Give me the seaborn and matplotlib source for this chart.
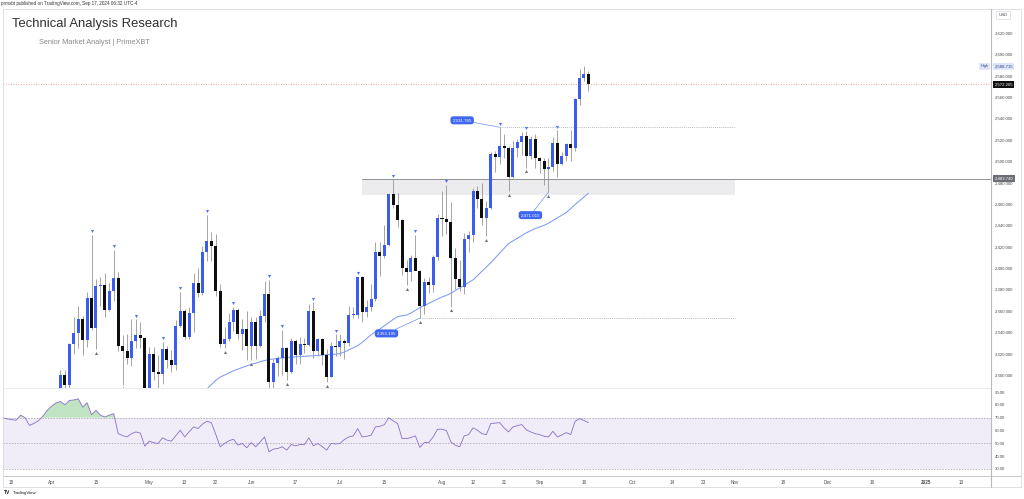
import numpy as np
import pandas as pd
import matplotlib
matplotlib.use("Agg")
import matplotlib.pyplot as plt
from matplotlib.lines import Line2D
from matplotlib.patches import Rectangle
import seaborn as sns

# ---------------- data ----------------
first_date = "2024-03-14"
axis_end_date = "2025-01-31"
holidays = ["2024-03-29"]

opens = [2174, 2162, 2155, 2160, 2157, 2186, 2181, 2165, 2172, 2178, 2194,
         2232, 2251, 2280, 2300, 2291, 2329, 2339, 2352, 2333, 2372,
         2344, 2383, 2384, 2361, 2379, 2391, 2327, 2322, 2316, 2332, 2337, 2335,
         2286, 2320, 2303, 2301, 2324, 2314, 2309, 2346, 2360, 2336, 2358, 2386, 2377,
         2415, 2425, 2421, 2379, 2329, 2334, 2350, 2361, 2338, 2343,
         2327, 2350, 2327, 2355, 2376, 2293, 2311, 2316, 2325, 2303,
         2332, 2319, 2329, 2328, 2360, 2322, 2334, 2319, 2298, 2327,
         2326, 2332, 2330, 2356, 2356, 2392, 2359, 2364, 2371, 2415,
         2411, 2422, 2469, 2459, 2445, 2400, 2396, 2409, 2397, 2365,
         2387, 2384, 2410, 2447, 2446, 2443, 2409, 2390, 2382, 2427,
         2431, 2472, 2465, 2447, 2456, 2507, 2504, 2514, 2512, 2485,
         2512, 2518, 2524, 2505, 2521, 2503, 2500, 2493, 2495, 2517,
         2497, 2505, 2516, 2512, 2558, 2578, 2582]
highs = [2175, 2167, 2164, 2163, 2187, 2222, 2183, 2176, 2190, 2195, 2236,
         2265, 2280, 2305, 2305, 2330, 2354, 2365, 2355, 2378, 2431,
         2390, 2392, 2395, 2386, 2417, 2396, 2337, 2338, 2352, 2352, 2350, 2336,
         2326, 2326, 2319, 2331, 2327, 2323, 2351, 2378, 2362, 2364, 2395, 2400, 2421,
         2450, 2434, 2432, 2385, 2345, 2358, 2364, 2363, 2352, 2360,
         2354, 2354, 2361, 2388, 2389, 2315, 2318, 2342, 2326, 2335,
         2334, 2336, 2335, 2366, 2368, 2335, 2335, 2324, 2331, 2338,
         2338, 2334, 2365, 2364, 2392, 2393, 2370, 2385, 2424, 2424,
         2440, 2469, 2483, 2470, 2446, 2408, 2412, 2431, 2398, 2391,
         2392, 2412, 2451, 2472, 2478, 2462, 2419, 2408, 2433, 2435,
         2475, 2477, 2480, 2463, 2509, 2510, 2531.765, 2525, 2514, 2519,
         2521, 2527, 2528, 2524, 2525, 2504, 2503, 2503, 2523, 2529,
         2509, 2517, 2529, 2559, 2586, 2588.715, 2584]
lows = [2152, 2146, 2146, 2146, 2146, 2172, 2157, 2160, 2168, 2171, 2190,
        2228, 2243, 2266, 2275, 2268, 2320, 2325, 2319, 2326, 2342,
        2324, 2365, 2354, 2360, 2369, 2322, 2291, 2310, 2308, 2325, 2325, 2285,
        2280, 2295, 2277, 2292, 2307, 2303, 2305, 2345, 2334, 2334, 2340, 2373, 2375,
        2407, 2407, 2374, 2326, 2325, 2332, 2341, 2334, 2323, 2314,
        2314, 2315, 2326, 2350, 2287, 2286, 2299, 2300, 2295, 2302,
        2310, 2310, 2321, 2327, 2316, 2318, 2309, 2293, 2298, 2318,
        2318, 2315, 2327, 2353, 2353, 2350, 2354, 2360, 2369, 2393,
        2409, 2421, 2456, 2438, 2394, 2384, 2388, 2400, 2353.195, 2357,
        2377, 2378, 2408, 2430, 2432, 2364, 2380, 2379, 2376, 2415,
        2424, 2456, 2440, 2430, 2455, 2490, 2497, 2503, 2472, 2484,
        2504, 2506, 2494, 2502, 2494, 2489, 2478, 2471.015, 2491, 2485,
        2496, 2500, 2500, 2510, 2553, 2575, 2566]
closes = [2162, 2155, 2160, 2157, 2186, 2181, 2165, 2172, 2178, 2194, 2230,
          2251, 2280, 2300, 2291, 2329, 2339, 2352, 2333, 2372, 2344,
          2383, 2384, 2361, 2379, 2391, 2327, 2322, 2316, 2332, 2337, 2335, 2286,
          2320, 2303, 2301, 2324, 2314, 2309, 2346, 2360, 2336, 2358, 2386, 2377, 2415,
          2425, 2421, 2379, 2329, 2334, 2350, 2361, 2338, 2343, 2327,
          2350, 2327, 2355, 2376, 2293, 2311, 2316, 2325, 2303, 2332,
          2319, 2329, 2328, 2360, 2322, 2334, 2319, 2298, 2327, 2326,
          2332, 2330, 2356, 2356, 2392, 2359, 2364, 2371, 2415, 2411,
          2422, 2469, 2459, 2445, 2400, 2396, 2409, 2397, 2365, 2387,
          2384, 2410, 2447, 2446, 2443, 2409, 2390, 2382, 2427, 2431,
          2472, 2465, 2447, 2456, 2507, 2504, 2514, 2512, 2485, 2512,
          2518, 2524, 2505, 2521, 2503, 2500, 2493, 2495, 2517, 2497,
          2505, 2516, 2512, 2558, 2578, 2582, 2572.205]

rsi_values = [70, 69, 68.5, 68, 72, 70, 64, 65.5, 67.5, 71, 75.7,
              79, 81.5, 82.6, 80.1, 83.4, 83.8, 84.7, 78.3, 81.6, 72.3,
              75.7, 72, 70.5, 72, 73.1, 57.6, 56, 55, 57.5, 58.9, 58, 47.8,
              51.7, 50.5, 49.9, 54.3, 52.5, 51.7, 56, 60.2, 55, 59, 62.8, 61.5, 65,
              67.2, 66.1, 57, 47.3, 50, 52, 53.2, 48.6, 49.9, 46.5,
              50.6, 47.3, 51, 55, 43.4, 45.5, 46, 47.3, 44.7, 49.1,
              48, 49.1, 49.1, 54.3, 48.1, 49.9, 47.5, 44.7, 49.9, 49.5,
              49.9, 53, 55, 55.8, 61.5, 55, 55.5, 56.3, 62.8, 63.3,
              64.5, 70, 67.5, 65.4, 53.7, 53.7, 54.5, 55.8, 46.8, 50.6,
              50.6, 55, 61, 61, 60, 51.2, 48.5, 47.3, 55.8, 56.8,
              62, 60.2, 57.5, 56.8, 65.4, 65.8, 66.1, 62, 58.9, 62.8,
              63.8, 64.6, 60.5, 58.9, 57.5, 56.8, 55.5, 55, 59.4, 55,
              56.5, 58.4, 56.8, 67.2, 69.2, 67.9, 66.1]

ma_start = "2024-05-17"
ma_values = [2283, 2287, 2291, 2295, 2298, 2300, 2302, 2304, 2305.5, 2307,
             2308.5, 2310, 2311, 2312.5, 2313.5, 2314.5, 2315, 2315.5, 2316, 2316.3,
             2316.6, 2317, 2317.2, 2317.5, 2317.8, 2318, 2318.3, 2318.6, 2319, 2319.2,
             2319.5, 2320, 2321.5, 2323.5, 2325.5, 2327.5, 2330.5, 2334, 2337.5, 2340.5,
             2343, 2346, 2349, 2352, 2354.5, 2355.5, 2356, 2358, 2360.5, 2363,
             2365, 2367, 2369, 2371, 2373, 2374.5, 2376.5, 2379, 2381.5, 2384,
             2386.5, 2389, 2393, 2397, 2401, 2405, 2409.5, 2414, 2418.5, 2423,
             2425.5, 2428, 2430.5, 2433, 2435, 2437, 2438.5, 2440, 2442, 2444.5,
             2447, 2449.5, 2452, 2455.5, 2459.5, 2463, 2466.5, 2470]

pivot_high_dates = ["2024-04-12", "2024-04-19", "2024-04-26", "2024-05-06", "2024-05-10",
                    "2024-05-20", "2024-05-28", "2024-06-07", "2024-06-12", "2024-06-21",
                    "2024-06-28", "2024-07-05", "2024-07-17", "2024-07-24", "2024-08-02",
                    "2024-08-20", "2024-08-28", "2024-09-06"]
pivot_low_dates = ["2024-04-15", "2024-04-23", "2024-05-24", "2024-06-03", "2024-06-13",
                   "2024-06-26", "2024-07-22", "2024-07-25", "2024-08-05", "2024-08-15",
                   "2024-08-22", "2024-08-28", "2024-09-04"]

price_ticks = list(range(2300, 2621, 20))
rsi_ticks = [30, 40, 50, 60, 70, 80, 90]
time_tick_dates = ["2024-03-18", "2024-04-01", "2024-04-15", "2024-05-01", "2024-05-13",
                   "2024-05-22", "2024-06-03", "2024-06-17", "2024-07-01", "2024-07-15",
                   "2024-08-01", "2024-08-12", "2024-08-21", "2024-09-02", "2024-09-16",
                   "2024-10-01", "2024-10-14", "2024-10-23", "2024-11-01", "2024-11-18",
                   "2024-12-02", "2024-12-16", "2025-01-01", "2025-01-13"]
time_tick_labels = ["18", "Apr", "15", "May", "13", "22", "Jun", "17", "Jul", "15",
                    "Aug", "12", "21", "Sep", "16", "Oct", "14", "23", "Nov", "18",
                    "Dec", "16", "2025", "13"]

zone_start, zone_end = "2024-07-08", "2024-11-01"
zone_top, zone_bottom = 2483.74, 2468.4
swing_high = ("2024-08-20", 2531.765)
swing_low_a = ("2024-09-04", 2471.015)
swing_low_b = ("2024-07-25", 2353.195)
level_end = "2024-11-01"
last_price = closes[-1]
session_high = 2588.715

# ---------------- style ----------------
sns.set_theme(style="white")
plt.rcParams['font.family'] = ['Liberation Sans', 'DejaVu Sans']

UP = "#3a5cf0"
DOWN = "#0e0e0e"
WICK = "#8c8c8c"
LBL = "#4a4a4a"

dates = pd.bdate_range(first_date, axis_end_date)
dates = dates[~dates.isin(pd.to_datetime(holidays))]
pos = {d: i for i, d in enumerate(dates)}
P = lambda s: pos[pd.Timestamp(s)]

n = len(closes)
x = np.arange(n)
o = np.array(opens, float); h = np.array(highs, float)
l = np.array(lows, float); c = np.array(closes, float)

W, H = 1024, 499
def box(left, top, right, bottom):
    return [left / W, 1 - bottom / H, (right - left) / W, (bottom - top) / H]

fig = plt.figure(figsize=(10.24, 4.99), dpi=100)
fig.patch.set_facecolor("white")
ax = fig.add_axes(box(3, 9, 991, 388))
axr = fig.add_axes(box(3, 388, 991, 476), sharex=ax)

XL = (0.04, 222.76)

# ---- candles ----
ax.vlines(x, l, h, color=WICK, lw=0.55, zorder=2)
up = c >= o
body = c - o
body = np.where(np.abs(body) < 0.8, np.where(up, 0.8, -0.8), body)
ax.bar(x, body, bottom=o, width=0.68, color=np.where(up, UP, DOWN), lw=0, zorder=3)

# ---- moving average ----
ma_x = np.arange(P(ma_start), P(ma_start) + len(ma_values))
sns.lineplot(x=ma_x, y=ma_values, ax=ax, color="#7d9bf6", lw=0.75, zorder=2, legend=False)

# ---- zone and levels ----
ax.fill_between([P(zone_start), P(zone_end)], zone_bottom, zone_top, color="#ececef", lw=0, zorder=0)
ax.plot([P(zone_start), XL[1]], [zone_top, zone_top], color="#8f9198", lw=0.7, zorder=1)
ax.plot([P(swing_high[0]), P(level_end)], [swing_high[1]] * 2, color="#a0a3ab", lw=0.6,
        ls=(0, (1, 1.5)), zorder=1)
ax.plot([P(swing_low_b[0]), P(level_end)], [swing_low_b[1]] * 2, color="#a0a3ab", lw=0.6,
        ls=(0, (1, 1.5)), zorder=1)
ax.axhline(last_price, color="#f08080", lw=0.6, ls=(0, (1, 2)), zorder=1)

# ---- pivot markers ----
ph = [P(d) for d in pivot_high_dates]
pl = [P(d) for d in pivot_low_dates]
ax.scatter(ph, h[ph] + 3.4, marker="v", s=5, color="#4f72f3", lw=0, zorder=4)
ax.scatter(pl, l[pl] - 3.4, marker="^", s=5, color="#6e6e6e", lw=0, zorder=4)

# ---- swing labels ----
BLUE_BOX = dict(boxstyle="round,pad=0.45,rounding_size=0.6", fc="#3f67f2", ec="none")
for (d, v), off in [(swing_high, (-27, 5)), (swing_low_a, (-13, -16.5)), (swing_low_b, (-24, -11))]:
    ax.annotate(f"{v:,.3f}", xy=(P(d), v), xytext=off, textcoords="offset points",
                ha="center", va="center", fontsize=3.2, color="white", bbox=BLUE_BOX,
                arrowprops=dict(arrowstyle="-", color="#6f8ff6", lw=0.5, shrinkA=0, shrinkB=0),
                zorder=6)

ax.set_xlim(*XL)
ax.set_ylim(2287.84, 2642.4)
ax.yaxis.tick_right()
ax.set_yticks(price_ticks)
ax.set_yticklabels([f"{v:,.3f}" for v in price_ticks])
ax.tick_params(axis="y", length=0, pad=2.6, labelsize=3.1, labelcolor=LBL)
ax.tick_params(axis="x", length=0, labelbottom=False)
for s in ax.spines.values():
    s.set_visible(False)

# axis value tags
def tag(axis, val, text, fc, tc):
    axis.annotate(text, xy=(1.0, val), xycoords=("axes fraction", "data"), xytext=(2.4, 0),
                  textcoords="offset points", ha="left", va="center", fontsize=3.1, color=tc,
                  bbox=dict(boxstyle="square,pad=0.35", fc=fc, ec="none"), zorder=10,
                  annotation_clip=False)
tag(ax, session_high, f"{session_high:,.3f}", "#dfe6fb", "#2a3f8f")
tag(ax, last_price, f"{last_price:,.3f}", "#101010", "white")
tag(ax, zone_top, f"{zone_top:,.3f}", "#6a6d75", "white")
ax.annotate("High", xy=(1.0, session_high), xycoords=("axes fraction", "data"), xytext=(-2, 0),
            textcoords="offset points", ha="right", va="center", fontsize=2.8, color="#2a3f8f",
            bbox=dict(boxstyle="square,pad=0.35", fc="#dfe6fb", ec="none"), annotation_clip=False)

# ---- RSI ----
rx = np.arange(len(rsi_values))
rv = np.array(rsi_values, float)
axr.axhspan(30, 70, color="#7e57c2", alpha=0.1, lw=0, zorder=0)
for lv in (70, 50, 30):
    axr.axhline(lv, color="#9a9ca5", lw=0.5, ls=(0, (2, 2)), zorder=1)
axr.fill_between(rx, rv, 70, where=rv > 70, interpolate=True, color="#4caf50", alpha=0.35,
                 lw=0, zorder=1)
sns.lineplot(x=rx, y=rv, ax=axr, color="#8a6fc9", lw=0.6, zorder=3, legend=False)
axr.set_ylim(24.54, 93.13)
axr.yaxis.tick_right()
axr.set_yticks(rsi_ticks)
axr.set_yticklabels([f"{v:.2f}" for v in rsi_ticks])
axr.tick_params(axis="y", length=0, pad=2.6, labelsize=3.1, labelcolor=LBL)
axr.set_xticks([P(d) for d in time_tick_dates])
axr.set_xticklabels(time_tick_labels)
axr.tick_params(axis="x", length=0, pad=3.0, labelsize=3.3, labelcolor=LBL)
for t, lab in zip(axr.get_xticklabels(), time_tick_labels):
    if lab == "2025":
        t.set_fontweight("bold")
for s in axr.spines.values():
    s.set_visible(False)
axr.set_xlabel(""); axr.set_ylabel(""); ax.set_xlabel(""); ax.set_ylabel("")

# ---- frame lines ----
def hline(y, x0, x1, col="#d9dbe0", lw=0.6):
    fig.add_artist(Line2D([x0 / W, x1 / W], [1 - y / H, 1 - y / H], color=col, lw=lw))
def vline(xp, y0, y1, col="#d9dbe0", lw=0.6):
    fig.add_artist(Line2D([xp / W, xp / W], [1 - y0 / H, 1 - y1 / H], color=col, lw=lw))
hline(9, 3, 1021)
hline(388, 3, 991, "#e4e6eb")
hline(476, 3, 1021, "#c8cad0", 0.8)
hline(487, 3, 1021)
vline(3, 9, 487)
vline(1021, 9, 487)
vline(991, 9, 487, "#b8bac0", 0.8)

# ---- texts ----
fig.text(1 / W, 1 - 4 / H, "prmxbt published on TradingView.com, Sep 17, 2024 06:32 UTC-4",
         fontsize=3.3, color="#333333", va="center", ha="left")
fig.text(12 / W, 1 - 24 / H, "Technical Analysis Research", fontsize=9.4, color="#2f2f33",
         va="center", ha="left")
fig.text(39 / W, 1 - 42 / H, "Senior Market Analyst | PrimeXBT", fontsize=5.3, color="#8a8a8e",
         va="center", ha="left")
fig.text(1003 / W, 1 - 15 / H, "USD", fontsize=3.2, color=LBL, va="center", ha="center",
         bbox=dict(boxstyle="square,pad=0.5", fc="white", ec="#d9dbe0", lw=0.5))
fig.text(4 / W, 1 - 493 / H, "TV", fontsize=3.6, color="#131722", fontweight="bold",
         va="center", ha="left")
fig.text(13 / W, 1 - 493 / H, "TradingView", fontsize=3.2, color="#131722", va="center",
         ha="left")

fig.savefig("out.png", dpi=100, facecolor="white")
